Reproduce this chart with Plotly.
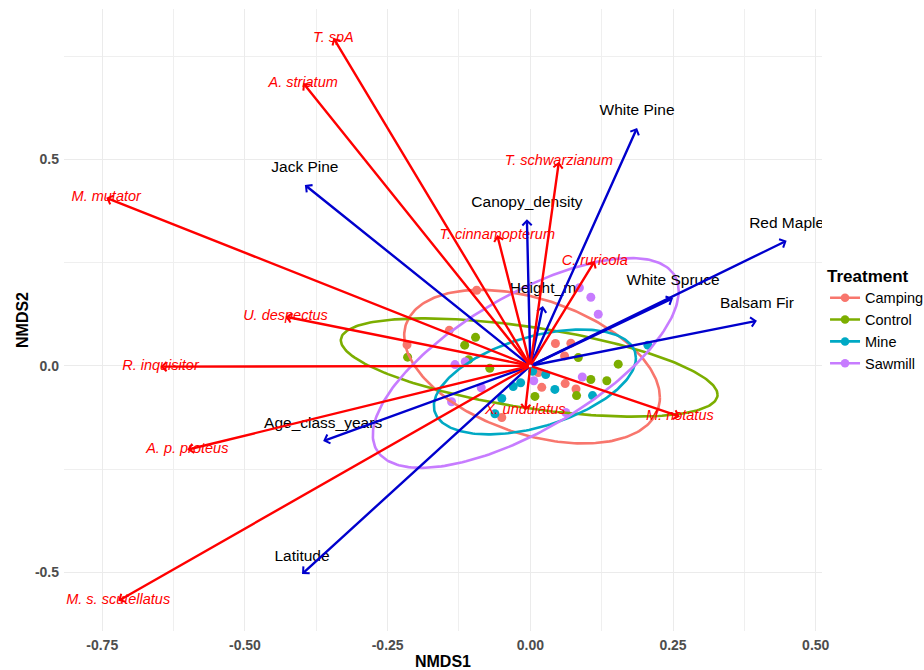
import numpy as np
import plotly.graph_objects as go

# ---- site scores (NMDS1, NMDS2) by treatment ----
treatments = ["Camping", "Control", "Mine", "Sawmill"]
treatment_colors = ["#F8766D", "#7CAE00", "#00A9C4", "#C77CFF"]

camping_x = [-0.094, -0.142, -0.216, 0.044, 0.071, 0.060, 0.014, 0.020, 0.061, 0.080, -0.050]
camping_y = [0.183, 0.086, 0.051, 0.054, 0.055, 0.024, -0.016, -0.052, -0.043, -0.056, -0.125]

control_x = [-0.096, -0.115, -0.108, -0.071, -0.215, 0.084, 0.154, 0.106, 0.134, 0.081, 0.008]
control_y = [0.069, 0.050, 0.015, -0.006, 0.021, 0.020, 0.004, -0.033, -0.036, -0.072, -0.074]

mine_x = [0.206, 0.027, 0.004, -0.017, -0.030, -0.050, 0.043, 0.109, -0.062]
mine_y = [0.050, -0.021, -0.013, -0.041, -0.050, -0.079, -0.057, -0.072, -0.116]

sawmill_x = [0.086, 0.106, 0.119, -0.132, -0.114, -0.086, 0.006, 0.091, -0.138, 0.062]
sawmill_y = [0.189, 0.166, 0.125, 0.003, 0.010, -0.053, -0.036, -0.027, -0.087, -0.113]

site_x = [camping_x, control_x, mine_x, sawmill_x]
site_y = [camping_y, control_y, mine_y, sawmill_y]

# ---- 95% ellipse summaries per treatment:
# centre, half-width, half-height, vertical offset at the x-extreme
ell_cx = [0.003, -0.002, 0.008, -0.008]
ell_cy = [-0.002, -0.004, -0.039, 0.007]
ell_w = [0.224, 0.330, 0.177, 0.268]
ell_h = [0.186, 0.119, 0.127, 0.254]
ell_dy = [-0.075, -0.066, 0.058, 0.174]

# ---- species vectors ----
species = ["T. spA", "A. striatum", "M. mutator", "T. schwarzianum", "T. cinnamopterum",
           "C. ruricola", "U. despectus", "R. inquisitor", "A. p. proteus",
           "M. s. scutellatus", "X. undulatus", "M. notatus"]
species_x = [-0.345, -0.398, -0.743, 0.050, -0.058, 0.113, -0.429, -0.648, -0.601,
             -0.722, -0.009, 0.262]
species_y = [0.794, 0.685, 0.407, 0.494, 0.317, 0.254, 0.119, -0.002, -0.203,
             -0.569, -0.108, -0.123]

# ---- environmental vectors ----
env_vars = ["White Pine", "Jack Pine", "Canopy_density", "Red Maple", "White Spruce",
            "Height_m", "Balsam Fir", "Age_class_years", "Latitude"]
env_x = [0.187, -0.395, -0.006, 0.449, 0.250, 0.022, 0.397, -0.363, -0.400]
env_y = [0.576, 0.438, 0.355, 0.303, 0.164, 0.145, 0.109, -0.182, -0.504]

x_ticks = [-0.75, -0.50, -0.25, 0.00, 0.25, 0.50]
y_ticks = [-0.5, 0.0, 0.5]

FONT = "Liberation Sans, Arial, sans-serif"
SPECIES_COL = "#FF0000"
ENV_COL = "#0000CD"

fig = go.Figure()

# site points
for name, col, xs, ys in zip(treatments, treatment_colors, site_x, site_y):
    fig.add_trace(go.Scatter(
        x=xs, y=ys, mode="markers", legendgroup=name, showlegend=False,
        marker=dict(color=col, size=9, line=dict(width=0)), hoverinfo="skip"))

# ellipses
t = np.linspace(0, 2 * np.pi, 240)
for name, col, cx, cy, w, h, dy in zip(treatments, treatment_colors, ell_cx, ell_cy,
                                       ell_w, ell_h, ell_dy):
    ex = cx + w * np.cos(t)
    ey = cy + dy * np.cos(t) + np.sqrt(h ** 2 - dy ** 2) * np.sin(t)
    fig.add_trace(go.Scatter(
        x=ex, y=ey, mode="lines", legendgroup=name, showlegend=False,
        line=dict(color=col, width=2.6), hoverinfo="skip"))

# legend keys
for name, col in zip(treatments, treatment_colors):
    fig.add_trace(go.Scatter(
        x=[None], y=[None], mode="lines+markers", name=name, legendgroup=name,
        line=dict(color=col, width=2.6), marker=dict(color=col, size=8.5)))

# labels
fig.add_trace(go.Scatter(
    x=species_x, y=species_y, mode="text", text=species, showlegend=False,
    textposition="middle center", cliponaxis=True, hoverinfo="skip",
    textfont=dict(family=FONT, size=14.5, color=SPECIES_COL, style="italic")))

env_label_nudge = 0.040
fig.add_trace(go.Scatter(
    x=env_x, y=[v + env_label_nudge for v in env_y], mode="text", text=env_vars,
    showlegend=False, textposition="middle center", cliponaxis=True, hoverinfo="skip",
    textfont=dict(family=FONT, size=15.5, color="#000000")))

# arrows from the origin
annotations = []
for xs, ys, col in ((env_x, env_y, ENV_COL), (species_x, species_y, SPECIES_COL)):
    for x1, y1 in zip(xs, ys):
        annotations.append(dict(
            x=x1, y=y1, ax=0, ay=0, xref="x", yref="y", axref="x", ayref="y",
            showarrow=True, arrowhead=4, arrowsize=0.75, arrowwidth=2.4,
            arrowcolor=col, standoff=0, startstandoff=0, text=""))

fig.update_layout(
    width=924, height=670,
    margin=dict(l=64, r=102, t=9, b=39, autoexpand=False),
    paper_bgcolor="white", plot_bgcolor="white",
    font=dict(family=FONT, color="#000000"),
    annotations=annotations,
    legend=dict(
        x=1.004, xanchor="left", y=0.597, yanchor="top",
        title=dict(text="<b>Treatment</b>", font=dict(size=17, family=FONT)),
        font=dict(size=14.5, family=FONT), itemwidth=30, tracegroupgap=0,
        bgcolor="rgba(0,0,0,0)"),
    xaxis=dict(
        range=[-0.817, 0.511], tickvals=x_ticks,
        ticktext=[f"{v:.2f}" for v in x_ticks],
        showgrid=True, gridcolor="#EBEBEB", gridwidth=1.1, zeroline=False,
        showline=False, ticks="", ticklabelstandoff=4,
        tickfont=dict(size=14, color="#4D4D4D", family=FONT, weight="bold"),
        minor=dict(dtick=0.125, tick0=0, showgrid=True, gridcolor="#EFEFEF", gridwidth=0.6),
        title=dict(text="<b>NMDS1</b>", font=dict(size=16, family=FONT), standoff=6)),
    yaxis=dict(
        range=[-0.642, 0.864], tickvals=y_ticks,
        ticktext=[f"{v:.1f}" for v in y_ticks],
        showgrid=True, gridcolor="#EBEBEB", gridwidth=1.1, zeroline=False,
        showline=False, ticks="", ticklabelstandoff=4,
        tickfont=dict(size=14, color="#4D4D4D", family=FONT, weight="bold"),
        minor=dict(dtick=0.25, tick0=0, showgrid=True, gridcolor="#EFEFEF", gridwidth=0.6),
        title=dict(text="<b>NMDS2</b>", font=dict(size=16, family=FONT), standoff=2)),
)

fig.write_html("out.html")
